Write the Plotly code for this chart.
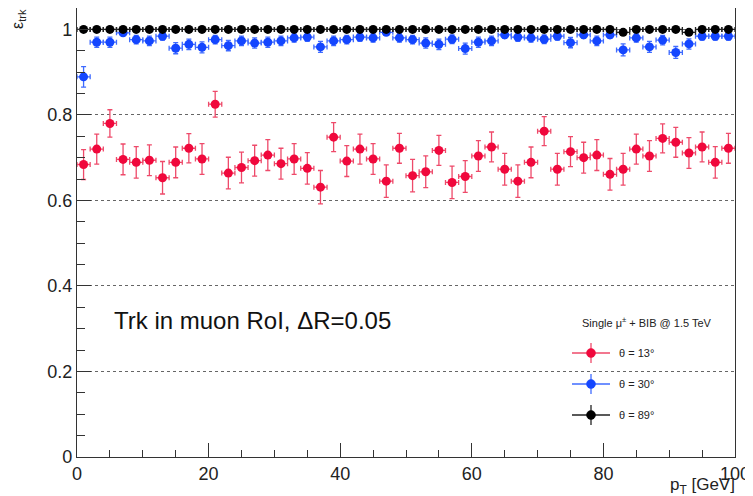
import plotly.graph_objects as go

# ---- data ----
pt_centers = [1, 3, 5, 7, 9, 11, 13, 15, 17, 19, 21, 23, 25, 27, 29, 31, 33, 35, 37, 39,
              41, 43, 45, 47, 49, 51, 53, 55, 57, 59, 61, 63, 65, 67, 69, 71, 73, 75, 77, 79,
              81, 83, 85, 87, 89, 91, 93, 95, 97, 99]
pt_halfwidth = [1.0] * 50

eff_theta13 = [0.684, 0.720, 0.780, 0.696, 0.689, 0.694, 0.653, 0.689, 0.722, 0.697,
               0.825, 0.664, 0.677, 0.693, 0.706, 0.686, 0.697, 0.675, 0.631, 0.748,
               0.692, 0.720, 0.697, 0.645, 0.722, 0.658, 0.667, 0.717, 0.642, 0.656,
               0.704, 0.725, 0.673, 0.645, 0.689, 0.762, 0.673, 0.714, 0.700, 0.706,
               0.661, 0.673, 0.720, 0.704, 0.745, 0.736, 0.711, 0.725, 0.689, 0.722]
err_theta13 = [0.035, 0.035, 0.032, 0.036, 0.037, 0.036, 0.038, 0.036, 0.034, 0.036,
               0.030, 0.037, 0.036, 0.036, 0.036, 0.036, 0.036, 0.037, 0.039, 0.034,
               0.036, 0.035, 0.036, 0.038, 0.035, 0.038, 0.037, 0.035, 0.038, 0.037,
               0.036, 0.035, 0.037, 0.038, 0.036, 0.034, 0.037, 0.035, 0.036, 0.036,
               0.037, 0.037, 0.035, 0.036, 0.034, 0.035, 0.036, 0.035, 0.037, 0.035]

eff_theta30 = [0.889, 0.970, 0.970, 0.992, 0.976, 0.973, 0.984, 0.956, 0.965, 0.958,
               0.976, 0.962, 0.973, 0.968, 0.970, 0.973, 0.980, 0.982, 0.959, 0.973,
               0.976, 0.982, 0.980, 0.993, 0.980, 0.976, 0.968, 0.965, 0.977, 0.955,
               0.970, 0.973, 0.987, 0.982, 0.980, 0.977, 0.984, 0.969, 0.987, 0.973,
               0.987, 0.952, 0.980, 0.959, 0.975, 0.946, 0.966, 0.984, 0.984, 0.984]
err_theta30 = [0.024, 0.012, 0.012, 0.006, 0.010, 0.011, 0.009, 0.013, 0.012, 0.013,
               0.010, 0.012, 0.011, 0.012, 0.012, 0.011, 0.010, 0.010, 0.013, 0.011,
               0.010, 0.010, 0.010, 0.006, 0.010, 0.010, 0.012, 0.012, 0.010, 0.013,
               0.012, 0.011, 0.008, 0.010, 0.010, 0.010, 0.009, 0.012, 0.008, 0.011,
               0.008, 0.014, 0.010, 0.013, 0.011, 0.014, 0.012, 0.009, 0.009, 0.009]

eff_theta89 = [1.000, 1.000, 1.000, 1.000, 1.000, 1.000, 1.000, 1.000, 1.000, 1.000,
               1.000, 1.000, 1.000, 1.000, 1.000, 1.000, 1.000, 1.000, 1.000, 1.000,
               1.000, 1.000, 1.000, 1.000, 1.000, 1.000, 1.000, 1.000, 1.000, 1.000,
               1.000, 1.000, 1.000, 1.000, 1.000, 1.000, 1.000, 1.000, 1.000, 1.000,
               1.000, 0.993, 1.000, 1.000, 1.000, 1.000, 0.993, 1.000, 1.000, 1.000]
err_theta89 = [0.002] * 50

series_names = ["θ = 13°", "θ = 30°", "θ = 89°"]
y_tickvals = [0, 0.2, 0.4, 0.6, 0.8, 1.0]
y_ticktext = ["0", "0.2", "0.4", "0.6", "0.8", "1"]
x_tickvals = [0, 20, 40, 60, 80, 100]
x_ticktext = ["0", "20", "40", "60", "80", "100"]

# ---- styles ----
FONT = "Liberation Sans, Arial, Helvetica, sans-serif"
colors = ["#f0083c", "#1446ff", "#000000"]
err_colors = ["#ee4a6a", "#3f6bff", "#222222"]

W, H = 753, 496
OFF = 8  # default page body margin
# plot frame in page pixels: left 77, right 735, top 8, bottom 457
L = 77 - OFF
T = 8 - OFF
R = W - (735 - OFF)
B = H - (457 - OFF)
PW, PH = W - L - R, H - T - B


def px_x(px):
    return (px - OFF - L) / PW


def px_y(py):
    return (H - B - (py - OFF)) / PH


fig = go.Figure()
all_y = [eff_theta13, eff_theta30, eff_theta89]
all_e = [err_theta13, err_theta30, err_theta89]
for name, ys, es, c, ec in zip(series_names, all_y, all_e, colors, err_colors):
    fig.add_trace(go.Scatter(
        x=pt_centers, y=ys, mode="markers", name=name, showlegend=False,
        marker=dict(color=c, size=9, line=dict(width=0)),
        error_y=dict(type="data", array=es, visible=True, color=ec, thickness=1.3, width=2.5),
        error_x=dict(type="data", array=pt_halfwidth, visible=True, color=ec, thickness=1.3, width=2.5),
        cliponaxis=False,
    ))

# ---- legend drawn as in ROOT ----
legend_rows = [353, 384, 415]
shapes = []
annotations = []
for name, c, ec, py in zip(series_names, colors, err_colors, legend_rows):
    shapes.append(dict(type="line", xref="paper", yref="paper",
                       x0=px_x(572), x1=px_x(610), y0=px_y(py), y1=px_y(py),
                       line=dict(color=ec, width=1.3)))
    shapes.append(dict(type="line", xref="paper", yref="paper",
                       x0=px_x(591), x1=px_x(591), y0=px_y(py - 10), y1=px_y(py + 10),
                       line=dict(color=ec, width=1.3)))
    shapes.append(dict(type="circle", xref="paper", yref="paper",
                       xsizemode="pixel", ysizemode="pixel",
                       xanchor=px_x(591), yanchor=px_y(py),
                       x0=-4.5, x1=4.5, y0=-4.5, y1=4.5,
                       fillcolor=c, line=dict(color=c, width=0.5)))
    annotations.append(dict(text=name, xref="paper", yref="paper",
                            x=px_x(617), y=px_y(py), xanchor="left", yanchor="middle",
                            showarrow=False, font=dict(family=FONT, size=11, color="#222")))

annotations.append(dict(text="Single μ<sup>±</sup> + BIB @ 1.5 TeV", xref="paper", yref="paper",
                        x=px_x(647), y=px_y(322), xanchor="center", yanchor="middle",
                        showarrow=False, font=dict(family=FONT, size=11, color="#222")))
annotations.append(dict(text="Trk in muon RoI, ΔR=0.05", xref="paper", yref="paper",
                        x=px_x(112), y=px_y(320), xanchor="left", yanchor="middle",
                        showarrow=False, font=dict(family=FONT, size=24, color="#111")))
annotations.append(dict(text="p<sub>T</sub> [GeV]", xref="paper", yref="paper",
                        x=px_x(737), y=px_y(486), xanchor="right", yanchor="middle",
                        showarrow=False, font=dict(family=FONT, size=17, color="#222")))
annotations.append(dict(text="ε<sub>trk</sub>", xref="paper", yref="paper",
                        x=px_x(18), y=px_y(19), xanchor="center", yanchor="middle",
                        textangle=-90, showarrow=False,
                        font=dict(family=FONT, size=16, color="#222")))

fig.update_layout(
    width=W, height=H,
    margin=dict(l=L, r=R, t=T, b=B, autoexpand=False),
    paper_bgcolor="white", plot_bgcolor="white",
    font=dict(family=FONT, size=18, color="#222"),
    shapes=shapes, annotations=annotations,
    showlegend=False,
)
fig.update_xaxes(
    range=[0, 100], showgrid=False, zeroline=False, automargin=False,
    showline=True, linecolor="#333", linewidth=1.2, mirror=True,
    ticks="inside", ticklen=14, tickwidth=1.2, tickcolor="#333",
    tickvals=x_tickvals, ticktext=x_ticktext,
    minor=dict(dtick=5, tick0=0, ticks="inside", ticklen=7, tickwidth=1.2, tickcolor="#333"),
    tickfont=dict(family=FONT, size=18, color="#222"),
)
fig.update_yaxes(
    range=[0, 1.05], zeroline=False, automargin=False,
    showgrid=True, gridcolor="#666", griddash="dot", gridwidth=1,
    showline=True, linecolor="#333", linewidth=1.2, mirror=True,
    ticks="inside", ticklen=14, tickwidth=1.2, tickcolor="#333",
    tickvals=y_tickvals, ticktext=y_ticktext,
    minor=dict(dtick=0.05, tick0=0, ticks="inside", ticklen=8, tickwidth=1.2,
               tickcolor="#333", showgrid=False),
    tickfont=dict(family=FONT, size=18, color="#222"),
)

fig.write_html("out.html")
